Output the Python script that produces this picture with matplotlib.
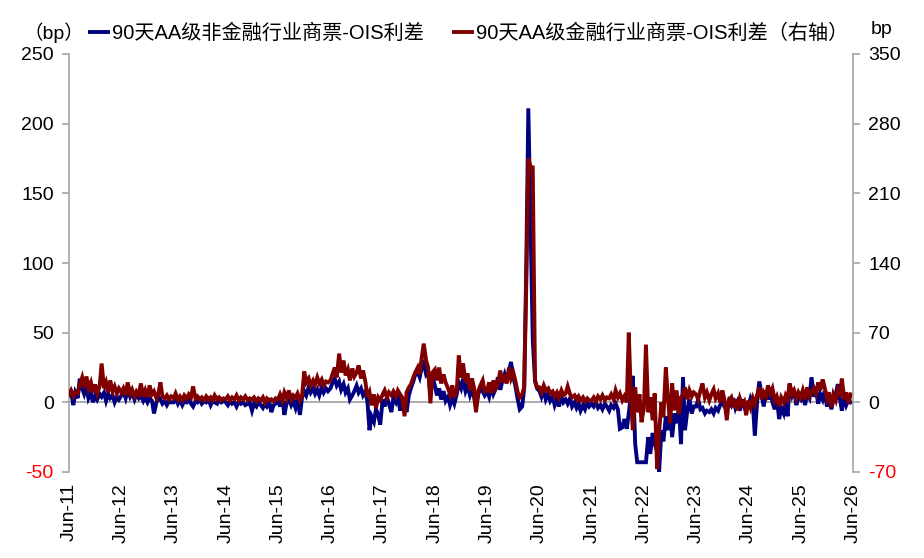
import matplotlib
matplotlib.use('Agg')
import matplotlib.pyplot as plt
import matplotlib.dates as mdates
import pandas as pd

# Semi-monthly readings (1st and 16th of each month), Jun-2011 .. May-2026
blue_spread = [
    # Jun-11 .. May-12
    5, 9, -2, 7, 3, 17, 10, 6, 12, 3, 7, 0, 5, 2, 6, 4, 7, 1, 6, 3, 5, 0, 4, 2,
    # Jun-12
    5, 8, 3, 9, 4, 7, 2, 6, 3, 5, 1, 4, 0, 3, 1, -8, 0, 4, 2, -1, 1, -2, 1, 0,
    # Jun-13
    0, 3, -1, 2, -2, 1, 0, 2, -1, -3, 1, 0, 2, -1, 1, 0, 2, -2, 1, 0, -1, 2, 0, 1,
    # Jun-14
    0, -2, 1, -1, 0, -3, 1, -1, 0, -2, -1, 0, -6, -1, -3, 0, -2, -4, -1, -3, 0, -7, -2, -1,
    # Jun-15
    2, -3, 4, -9, 0, 3, -2, 1, -4, 2, -9, 3, 8, 5, 11, 7, 10, 6, 9, 5, 11, 7, 10, 8,
    # Jun-16
    10, 14, 17, 12, 15, 9, 13, 7, 10, 2, 5, 8, 12, 7, 10, 5, 8, 0, -20, -10, -14, -5, -9, -16,
    # Jun-17
    2, -3, 4, -1, -7, 3, 0, 5, -6, 2, -2, -7, 5, 10, 15, 20, 22, 18, 25, 28, 20, 22, 5, 18,
    # Jun-18
    12, 5, 10, 2, 8, 1, 4, -2, 3, -1, 6, 14, 10, 17, 8, 12, 5, 9, 4, -4, 6, 10, 8, 5,
    # Jun-19
    8, 4, 12, 6, 10, 18, 9, 15, 20, 14, 22, 29, 18, 12, 2, -5, -3, 10, 100, 211, 120, 45, 15, 10,
    # Jun-20
    8, 4, 9, 2, 6, 1, 4, -2, 3, -3, 5, 0, 2, -1, 3, -3, 0, -4, -1, -6, -2, -5, 0, -3,
    # Jun-21
    -1, -3, 0, -4, -2, -5, -1, -3, -6, -2, -4, -1, -5, -19, -18, -12, -19, -8, 5, 19, -30, -43, -43, -43,
    # Jun-22
    -43, -43, -25, -37, -22, -30, -35, -50, -20, -28, -10, -20, -5, -25, -8, -15, -3, -30, 18, -20, -5, 2, -8, -3,
    # Jun-23
    -3, 2, -5, -4, -8, -6, -7, -5, -8, -4, -6, -2, 0, -3, -5, 1, -2, 3, -4, 0, -6, 2, -3, -1,
    # Jun-24
    -2, 3, -1, -24, 2, 15, 5, -3, 8, 2, 10, 0, -5, 3, -12, -4, -8, 2, -10, 13, 5, 9, -2, 4,
    # Jun-25
    2, 8, -2, 6, 3, 18, 4, 9, -1, 6, 2, 8, -3, 4, -5, 2, 6, 13, 3, -6, 4, -2, 2, 0,
]

red_spread = [
    # Jun-11 .. May-12
    8, 12, 6, 10, 9, 18, 25, 15, 26, 14, 20, 10, 18, 9, 16, 39, 14, 20, 10, 22, 11, 16, 9, 14,
    # Jun-12
    10, 14, 7, 20, 9, 13, 6, 11, 8, 19, 6, 12, 5, 17, 8, 11, 4, 9, 20, 6, 4, 7, 3, 6,
    # Jun-13
    4, 9, 3, 6, 2, 7, 4, 8, 5, 16, 4, 6, 3, 5, 2, 6, 3, 5, 2, 7, 3, 5, 2, 4,
    # Jun-14
    3, 6, 2, 5, 3, 7, 2, 5, 3, 6, 2, 4, 3, 5, 1, 4, 2, 5, 0, 4, 2, 3, 1, 4,
    # Jun-15
    3, 8, 2, 10, 4, 12, 3, 7, 5, 9, 2, 6, 31, 20, 24, 17, 22, 18, 25, 19, 23, 17, 21, 20,
    # Jun-16
    22, 28, 35, 25, 49, 30, 42, 27, 33, 22, 34, 26, 30, 37, 24, 32, 20, 5, 10, -3, 8, -6, 5, 2,
    # Jun-17
    8, 12, 5, 10, 7, 11, 6, 12, 8, 5, -14, 10, 15, 18, 25, 30, 35, 28, 45, 59, 42, 35, -1, 30,
    # Jun-18
    33, 22, 35, 19, 28, 20, 14, 8, 17, 5, 12, 47, 25, 39, 20, 29, 12, 24, 15, -10, 12, 17, 22, 11,
    # Jun-19
    12, 20, 9, 22, 14, 18, 32, 20, 28, 19, 35, 24, 30, 22, 10, 5, 8, 15, 120, 245, 236, 236, 22, 15,
    # Jun-20
    15, 10, 17, 12, 14, 9, 11, 6, 10, 5, 12, 7, 9, 16, 8, 5, 7, 3, 6, 2, 5, 1, 4, 2,
    # Jun-21
    2, 5, 1, 6, 3, 7, 2, 5, 4, 8, 3, 12, 5, 9, 2, 6, 0, 70, 10, -28, 15, -10, 8, -20,
    # Jun-22
    -5, 58, -10, 5, -18, 9, -67, -30, 0, -15, 35, 5, -21, 19, -8, 12, -12, 5, 8, 15, 3, 12, 6, 10,
    # Jun-23
    8, 3, 12, 19, 5, 10, 2, 8, 13, 4, 9, 0, 12, 3, -18, 2, 5, -5, 3, -8, 4, -2, 1, -13,
    # Jun-24
    2, -5, 4, -2, 8, 15, 3, 10, 6, 17, 9, 14, 2, 6, -4, 5, 0, 7, 3, 19, 8, 12, 4, 10,
    # Jun-25
    5, 12, 3, 15, 6, 10, 14, 9, 20, 12, 23, 15, 4, 10, -5, 8, 2, 12, 6, 24, 3, 10, -1, 8,
]

blue_label = '90天AA级非金融行业商票-OIS利差'
red_label = '90天AA级金融行业商票-OIS利差（右轴）'
left_ticks = [-50, 0, 50, 100, 150, 200, 250]
right_ticks = [-70, 0, 70, 140, 210, 280, 350]

plt.rcParams['font.family'] = ['Liberation Sans', 'Noto Sans CJK SC', 'DejaVu Sans']

dates = pd.date_range('2011-06-01', periods=len(blue_spread), freq='SMS')

W, H = 924, 558
fig = plt.figure(figsize=(W / 100, H / 100), dpi=100)
ax = fig.add_axes([69 / W, 1 - 472 / H, 784 / W, 418 / H])
ax2 = ax.twinx()

grey = '#A6A6A6'
ax.axhline(0, color=grey, lw=1.3, zorder=0)
l1, = ax.plot(dates, blue_spread, color='#000080', lw=2.8, label=blue_label, zorder=2,
              solid_joinstyle='miter')
l2, = ax2.plot(dates, red_spread, color='#800000', lw=2.8, label=red_label, zorder=2,
               solid_joinstyle='miter')

ax.set_ylim(-50, 250)
ax2.set_ylim(-70, 350)
ax.set_yticks(left_ticks, labels=[str(v) for v in left_ticks])
ax2.set_yticks(right_ticks, labels=[str(v) for v in right_ticks])
ax.get_yticklabels()[0].set_color('red')
ax2.get_yticklabels()[0].set_color('red')

ax.set_xlim(pd.Timestamp('2011-06-01'), pd.Timestamp('2026-06-01'))
ax.xaxis.set_major_locator(mdates.MonthLocator(bymonth=6, bymonthday=1))
ax.xaxis.set_major_formatter(mdates.DateFormatter('%b-%y'))
ax.tick_params(axis='x', length=0, pad=8, labelsize=14, labelrotation=90)

for a in (ax, ax2):
    a.spines['top'].set_visible(False)
    a.spines['bottom'].set_visible(False)
ax.spines['right'].set_visible(False)
ax2.spines['left'].set_visible(False)
ax.spines['left'].set_color(grey)
ax2.spines['right'].set_color(grey)
ax.spines['left'].set_linewidth(1.2)
ax2.spines['right'].set_linewidth(1.2)
ax.tick_params(axis='y', direction='out', length=5, width=1.2, color=grey, labelsize=14, pad=6)
ax2.tick_params(axis='y', direction='out', length=5, width=1.2, color=grey, labelsize=14, pad=6)

fig.legend([l1, l2], [blue_label, red_label], loc='center', bbox_to_anchor=(0.508, 1 - 33 / H),
           ncol=2, frameon=False, fontsize=14.5, handlelength=0.9, handletextpad=0.2,
           columnspacing=1.5, borderaxespad=0, borderpad=0)

fig.text(84 / W, 1 - 33 / H, '（bp）', ha='right', va='center', fontsize=14)
fig.text(882 / W, 1 - 30 / H, 'bp', ha='center', va='center', fontsize=14)

fig.savefig('out.png', dpi=100)
